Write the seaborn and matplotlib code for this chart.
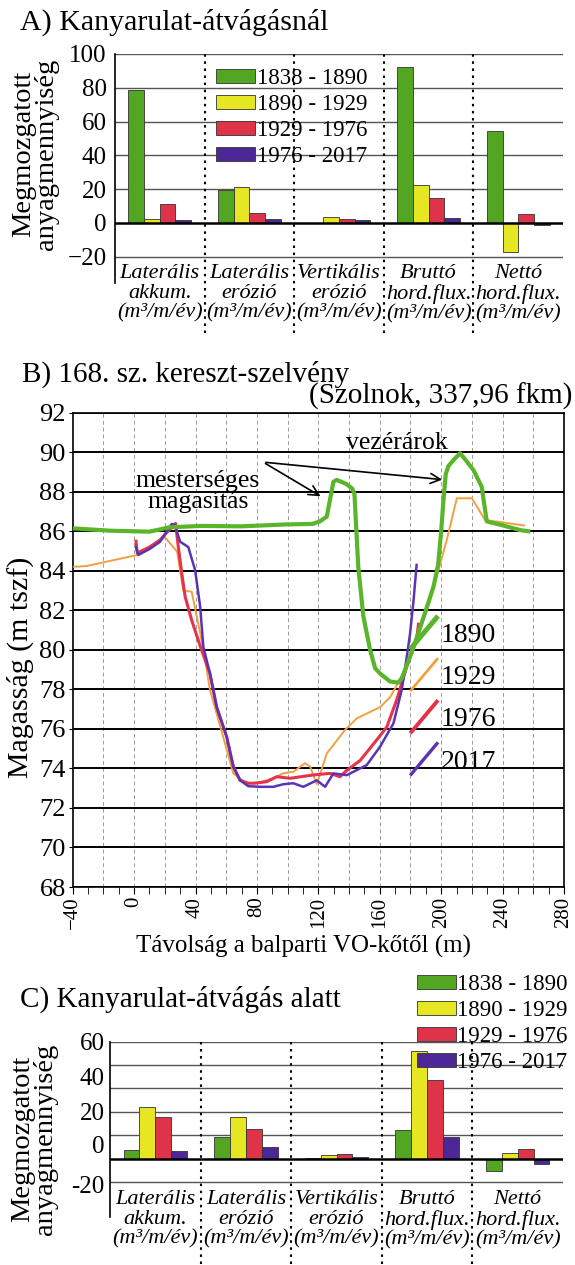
import numpy as np
import pandas as pd
import matplotlib
matplotlib.use('Agg')
import matplotlib.pyplot as plt
import seaborn as sns
from matplotlib.patches import Patch
from matplotlib.lines import Line2D
from matplotlib.legend_handler import HandlerBase
from matplotlib.ticker import MultipleLocator

plt.rcParams['font.family'] = ['Liberation Serif', 'DejaVu Serif']

# Kategóriák és időszakok
kategoriak = ['Laterális\nakkum.\n(m³/m/év)', 'Laterális\nerózió\n(m³/m/év)',
              'Vertikális\nerózió\n(m³/m/év)', 'Bruttó\nhord.flux.\n(m³/m/év)',
              'Nettó\nhord.flux.\n(m³/m/év)']
idoszakok = ['1838 - 1890', '1890 - 1929', '1929 - 1976', '1976 - 2017']
oszlop_szinek = ['#52a622', '#e6e622', '#de3349', '#4b2895']

# A) Kanyarulat-átvágásnál
a_1838_1890 = [78.5, 19.5, 0.0, 92.5, 54.5]
a_1890_1929 = [2.5, 21.0, 3.5, 22.5, -17.5]
a_1929_1976 = [11.0, 5.5, 2.5, 14.5, 5.0]
a_1976_2017 = [1.5, 2.5, 1.5, 3.0, -1.3]

# C) Kanyarulat-átvágás alatt
c_1838_1890 = [7.0, 18.0, 0.5, 24.5, -11.0]
c_1890_1929 = [44.0, 35.5, 3.0, 91.5, 5.0]
c_1929_1976 = [35.5, 25.0, 3.7, 67.5, 8.0]
c_1976_2017 = [6.5, 9.5, 1.7, 18.0, -4.3]
c_tick_hely = [100, 70, 40, 12, -22]
c_tick_felirat = ['60', '40', '20', '0', '-20']

# B) 168. sz. kereszt-szelvény
x_1890 = [-40, -16, 10, 23, 43, 70, 100, 116, 121, 125.5, 129.8, 132, 138, 142, 143.5,
          146, 149.3, 153.7, 157, 160.2, 166.7, 172, 174.3, 178, 184, 190, 195, 198,
          200, 201.5, 203, 204.7, 208, 212.3, 216, 221, 226.4, 229.7, 240, 251.4, 256.7]
y_1890 = [86.15, 86.03, 85.98, 86.2, 86.27, 86.25, 86.35, 86.37, 86.5, 86.74, 88.5, 88.6,
          88.4, 88.17, 87.9, 84.2, 81.7, 80.0, 79.07, 78.8, 78.4, 78.34, 78.56, 79.3, 80.6,
          82.0, 83.2, 84.3, 86.0, 87.6, 88.9, 89.3, 89.6, 89.95, 89.6, 89.1, 88.25, 86.5,
          86.3, 86.06, 86.0]
x_1929 = [-40, -31, 2, 20, 28, 32, 37.5, 45, 49.4, 58, 64.6, 73, 82, 90.7, 97, 103.7,
          111.3, 114.6, 119, 125.5, 137.4, 145, 160.2, 166.7, 175.4, 184, 192.8, 203.6,
          210.2, 220, 228.6, 240, 251.4, 254]
y_1929 = [84.2, 84.24, 84.8, 85.7, 84.97, 83.0, 82.94, 80.1, 77.97, 75.6, 73.75, 73.25,
          73.3, 73.5, 73.75, 73.83, 74.26, 74.1, 73.2, 74.76, 75.95, 76.53, 77.1, 77.6,
          78.8, 80.5, 82.5, 85.55, 87.67, 87.67, 86.57, 86.45, 86.32, 86.3]
x_1976 = [1.2, 2.1, 10, 16.9, 25.5, 27, 28.8, 31, 33.2, 37.5, 43, 49.4, 53.8, 60.3, 64.6,
          69, 74.4, 78.7, 86.4, 92.9, 101.6, 106, 116.7, 127.6, 134.1, 138.5, 147.2, 158,
          164.6, 171, 177.6, 184, 185.2]
y_1976 = [85.5, 84.9, 85.2, 85.56, 86.3, 86.4, 85.2, 83.9, 82.7, 81.5, 80.2, 78.8, 77.1,
          75.6, 74.1, 73.4, 73.25, 73.25, 73.33, 73.58, 73.5, 73.55, 73.67, 73.75, 73.58,
          73.9, 74.4, 75.44, 76.1, 77.46, 79.15, 80.5, 81.3]
x_2017 = [1.2, 2.7, 10, 16.9, 24.5, 26.5, 30, 35.3, 39.7, 43, 45.1, 49.4, 53.8, 60.3,
          64.6, 69, 74.4, 82, 90.7, 97.2, 103.7, 110.2, 119, 124.4, 129.8, 138.5, 151.5,
          160.2, 168.9, 174.3, 177.6, 179.7, 182, 184]
y_2017 = [85.2, 84.8, 85.1, 85.47, 86.37, 86.3, 85.47, 85.2, 84.04, 82.2, 80.15, 78.8,
          77.1, 75.6, 74.1, 73.4, 73.1, 73.07, 73.07, 73.2, 73.25, 73.07, 73.4, 73.07,
          73.75, 73.66, 74.17, 75.1, 76.28, 77.97, 79.65, 80.8, 82.5, 84.3]
evek = ['1890', '1929', '1976', '2017']
vonal_szinek = ['#5ab52a', '#f0a040', '#e5334b', '#5b34b5']
vonal_vastag = [3.0, 1.4, 2.2, 1.8]

W, H = 575, 1265
fig = plt.figure(figsize=(W / 100, H / 100), dpi=100)


def tengely_px(bal, fent, jobb, lent):
    return fig.add_axes([bal / W, 1 - lent / H, (jobb - bal) / W, (lent - fent) / H])


def oszlopabra(ax, sorok, ylim, szaggatott_also, felirat_y):
    df = pd.DataFrame({
        'kat': np.tile(kategoriak, len(idoszakok)),
        'ertek': np.concatenate(sorok),
        'idoszak': np.repeat(idoszakok, len(kategoriak)),
    })
    sns.barplot(data=df, x='kat', y='ertek', hue='idoszak', palette=oszlop_szinek,
                width=0.7, saturation=1, edgecolor='#333333', linewidth=0.6,
                legend=False, ax=ax, zorder=2)
    ax.set_xlim(-0.5, len(kategoriak) - 0.5)
    ax.set_ylim(*ylim)
    for v in range(-20, 101, 20):
        if v != 0:
            ax.axhline(v, color='#555555', lw=1.0, zorder=0)
    ax.axhline(0, color='black', lw=1.8, zorder=3)
    for i in range(len(kategoriak) - 1):
        ax.axvline(i + 0.5, ymin=szaggatott_also, ymax=1, color='black', lw=1.5,
                   ls=(0, (1.2, 2.2)), clip_on=False, zorder=1)
    for i, k in enumerate(kategoriak):
        ax.text(i, felirat_y, k, ha='center', va='top', style='italic',
                fontsize=16, linespacing=1.05)
    ax.set_xticks([])
    ax.set_xlabel('')
    ax.set_ylabel('')
    for s in ['top', 'right', 'bottom']:
        ax.spines[s].set_visible(False)
    ax.spines['left'].set_linewidth(1.2)
    ax.tick_params(axis='y', length=0, pad=6, labelsize=18)
    ax.patch.set_alpha(0)


def jelmagyarazat(ax, hely):
    kezelok = [Patch(facecolor=c, edgecolor='#333333', lw=0.6) for c in oszlop_szinek]
    ax.legend(kezelok, idoszakok, loc='upper left', bbox_to_anchor=hely, frameon=False,
              fontsize=16.5, handlelength=1.7, handleheight=0.55, handletextpad=0.08,
              labelspacing=0.22, borderpad=0, borderaxespad=0)


# ---- A) ----
axA = tengely_px(115, 54, 563, 283)
oszlopabra(axA, [a_1838_1890, a_1890_1929, a_1929_1976, a_1976_2017],
           (-35.7, 100), -0.218, -24.5)
axA.set_yticks(range(-20, 101, 20))
jelmagyarazat(axA, (0.2254, 0.938))
fig.text(20 / W, 1 - 30 / H, 'A) Kanyarulat-átvágásnál', fontsize=21.5, va='baseline')
fig.text(35 / W, 1 - 154 / H, 'Megmozgatott\nanyagmennyiség', rotation=90, fontsize=20.5,
         ha='center', va='center', multialignment='center', linespacing=0.9)

# ---- B) ----
axB = tengely_px(72.7, 412.7, 564, 887)
for xs, ys, c, lw in zip([x_1929, x_1976, x_2017, x_1890], [y_1929, y_1976, y_2017, y_1890],
                         [vonal_szinek[1], vonal_szinek[2], vonal_szinek[3], vonal_szinek[0]],
                         [vonal_vastag[1], vonal_vastag[2], vonal_vastag[3], vonal_vastag[0]]):
    sns.lineplot(x=xs, y=ys, sort=False, estimator=None, color=c, lw=lw, ax=axB, zorder=3)
axB.set_xlim(-40, 280)
axB.set_ylim(68, 92)
axB.set_yticks(range(68, 93, 2))
axB.set_xticks(range(-40, 281, 40))
axB.xaxis.set_minor_locator(MultipleLocator(10))
axB.grid(axis='y', color='black', lw=1.4, zorder=1)
for v in range(-20, 280, 20):
    axB.axvline(v, color='#9a9a9a', lw=0.7, ls=(0, (4, 3)), zorder=0)
axB.tick_params(axis='y', labelsize=19, length=3, pad=2)
axB.tick_params(axis='x', labelsize=15, labelrotation=90, length=5, pad=2)
axB.tick_params(axis='x', which='minor', length=5)
for s in axB.spines.values():
    s.set_linewidth(1.2)
axB.set_xlabel('')
axB.set_ylabel('')
axB.set_axisbelow(True)

axB.annotate('', xy=(123, 87.7), xytext=(84, 89.5),
             arrowprops=dict(arrowstyle='->', lw=1.2, color='black', mutation_scale=18))
axB.annotate('', xy=(202.5, 88.6), xytext=(84, 89.5),
             arrowprops=dict(arrowstyle='->', lw=1.2, color='black', mutation_scale=18))
axB.text(171, 90.48, 'vezérárok', fontsize=18.5, ha='center', va='center')
axB.text(41.6, 88.03, 'mesterséges\nmagasítás', fontsize=18.5, ha='center', va='center',
         linespacing=0.95)


class FerdeVonal(HandlerBase):
    def create_artists(self, legend, orig_handle, xdescent, ydescent, width, height,
                       fontsize, trans):
        x0, x1 = -xdescent, -xdescent + width
        y0, y1 = -ydescent - 0.35 * height, -ydescent + 1.35 * height
        ln = Line2D([x0, x1], [y0, y1], color=orig_handle.get_color(),
                    lw=orig_handle.get_linewidth(), solid_capstyle='butt')
        ln.set_transform(trans)
        return [ln]


vonal_kezelok = [Line2D([], [], color=c, lw=lw + 0.6) for c, lw in zip(vonal_szinek, vonal_vastag)]
axB.legend(vonal_kezelok, evek, handler_map={Line2D: FerdeVonal()}, frameon=False,
           fontsize=20, handlelength=1.0, handleheight=0.7, handletextpad=0.1,
           labelspacing=0.6, loc='upper left', bbox_to_anchor=(0.687, 0.557),
           borderpad=0, borderaxespad=0)

fig.text(22 / W, 1 - 381.7 / H, 'B) 168. sz. kereszt-szelvény', fontsize=21, va='baseline')
fig.text(572 / W, 1 - 404 / H, '(Szolnok, 337,96 fkm)', fontsize=21, va='baseline',
         ha='right')
fig.text(20 / W, 1 - 667 / H, 'Magasság (m tszf)', rotation=90, fontsize=21.5,
         ha='center', va='center')
fig.text(303 / W, 1 - 946 / H, 'Távolság a balparti VO-kőtől (m)', fontsize=18,
         ha='center', va='center')

# ---- C) ----
axC = tengely_px(110, 1041.5, 563, 1217)
oszlopabra(axC, [c_1838_1890, c_1890_1929, c_1929_1976, c_1976_2017],
           (-50, 100), -0.27, -27)
axC.set_yticks(c_tick_hely)
axC.set_yticklabels(c_tick_felirat)
axC.tick_params(axis='y', pad=4)
jelmagyarazat(axC, (0.677, 1.383))
fig.text(20 / W, 1 - 1006.7 / H, 'C) Kanyarulat-átvágás alatt', fontsize=21, va='baseline')
fig.text(34 / W, 1 - 1139 / H, 'Megmozgatott\nanyagmennyiség', rotation=90, fontsize=20.5,
         ha='center', va='center', multialignment='center', linespacing=0.9)

fig.savefig('out.png', dpi=100)
